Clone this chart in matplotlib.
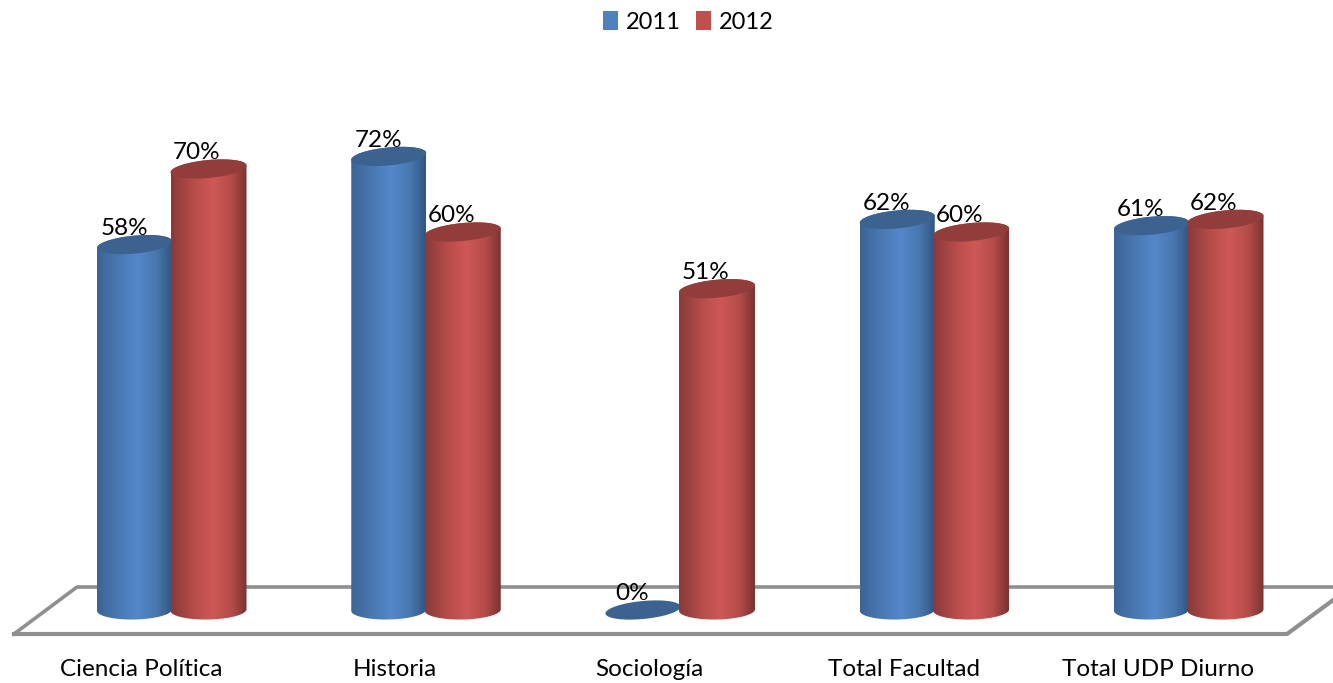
import matplotlib
matplotlib.use("Agg")
import matplotlib.pyplot as plt
import numpy as np
from matplotlib.colors import LinearSegmentedColormap
from matplotlib.patches import Patch, Polygon

categories = ["Ciencia Política", "Historia", "Sociología", "Total Facultad", "Total UDP Diurno"]
values_2011 = [58, 72, 0, 62, 61]
values_2012 = [70, 60, 51, 60, 62]

plt.rcParams['font.family'] = ['Lato', 'DejaVu Sans']

# scale of the picture: pixels per category and per percent
PX_X = 254.25
PX_Y = 6.3
X0 = 171
Y0 = 610
W, H = 1333, 683

fig = plt.figure(figsize=(W / 100, H / 100), dpi=100)
ax = fig.add_axes([0, 0, 1, 1])


def dx(px):
    return px / PX_X


def dy(px):
    return px / PX_Y


def ellipse(cx, v, a, b, tilt):
    # t runs right -> top -> left -> bottom, all in data units
    t = np.linspace(0, 2 * np.pi, 121)
    xs = a * np.cos(t)
    ys = b * np.sin(t) + tilt * xs
    return cx + dx(xs), v + dy(ys)


def cylinder(cx, v, half, colors, top_color, z):
    tx, ty = ellipse(cx, v, half, 9, 0.09)
    bx, by = ellipse(cx, 0, half, 9.5, 0.02)
    if v > 0:
        # upper half of top ellipse, lower half of bottom one
        xs = np.r_[tx[:61], bx[60:]]
        ys = np.r_[ty[:61], by[60:]]
        body = Polygon(np.c_[xs, ys], closed=True, fc="none", ec="none", zorder=z)
        ax.add_patch(body)
        cmap = LinearSegmentedColormap.from_list("c", colors)
        grad = np.linspace(0, 1, 200).reshape(1, -1)
        im = ax.imshow(grad, cmap=cmap, aspect="auto", zorder=z,
                       extent=[cx - dx(half), cx + dx(half), -3, v + 3])
        im.set_clip_path(body)
    ax.add_patch(Polygon(np.c_[tx, ty], closed=True, fc=top_color, ec="none", zorder=z + 0.1))


blue = [(0, "#3c6596"), (0.3, "#4a79b4"), (0.55, "#5488ca"), (0.8, "#4876ae"), (1, "#325684")]
red = [(0, "#8a3a38"), (0.3, "#b64d4b"), (0.55, "#cf5856"), (0.8, "#b44c4a"), (1, "#7a3331")]

# floor of the 3D chart
ax.plot([dx(14 - X0), dx(77 - X0), dx(1340 - X0)],
        [dy(Y0 - 634), dy(Y0 - 587), dy(Y0 - 587)], color="#8f8f8f", lw=2.6, zorder=1)
ax.plot([dx(14 - X0), dx(1287 - X0), dx(1340 - X0)],
        [dy(Y0 - 634), dy(Y0 - 634), dy(Y0 - 595)], color="#8f8f8f", lw=3.0, zorder=1)

for i, (a, b) in enumerate(zip(values_2011, values_2012)):
    cylinder(i + dx(-36.5), a, 37.5, blue, "#3c6390", 3)
    cylinder(i + dx(37.5), b, 38, red, "#923d3b", 4)
    ax.text(i + dx(-47), a + dy(16), f"{a}%", ha="center", va="center", fontsize=17.5, color="black", zorder=6)
    ax.text(i + dx(26), b + dy(16), f"{b}%", ha="center", va="center", fontsize=17.5, color="black", zorder=6)
    ax.text(i + dx(-30), dy(Y0 - 669), categories[i], ha="center", va="center", fontsize=17.5, color="black")

ax.set_xlim(dx(-X0), dx(W - X0))
ax.set_ylim(dy(Y0 - H), dy(Y0))
ax.axis("off")

handles = [Patch(fc="#4f81bd", label="2011"), Patch(fc="#c0504d", label="2012")]
fig.legend(handles=handles, loc="upper center", bbox_to_anchor=(0.5166, 1.011), ncol=2, frameon=False,
           fontsize=17, handlelength=0.62, handleheight=0.85, handletextpad=0.35, columnspacing=0.65,
           borderaxespad=0.4)

fig.savefig("out.png", dpi=100)
